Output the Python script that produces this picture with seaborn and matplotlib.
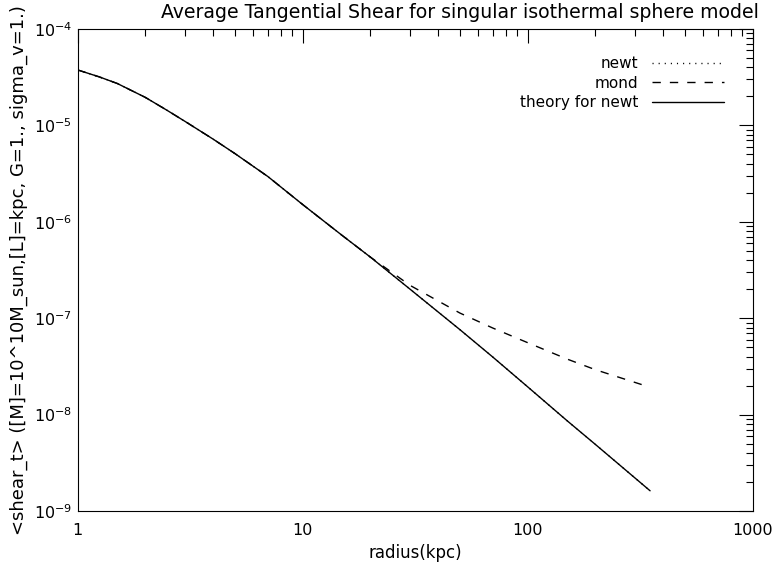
import numpy as np
import pandas as pd
import matplotlib
matplotlib.use("Agg")
import matplotlib.pyplot as plt
import seaborn as sns
from matplotlib.ticker import FixedLocator, LogLocator, NullFormatter, FixedFormatter

# radii (kpc) and averaged tangential shear values
radius = [1, 1.25, 1.5, 2, 2.5, 3, 4, 5, 7, 10, 15, 20, 30, 50, 70, 100, 150, 200, 350]
shear_theory = [3.76e-5, 3.18e-5, 2.72e-5, 1.95e-5, 1.43e-5, 1.10e-5, 7.2e-6, 5.1e-6, 2.95e-6,
                1.51e-6, 7.2e-7, 4.3e-7, 2.0e-7, 7.6e-8, 3.95e-8, 1.94e-8, 8.6e-9, 4.9e-9, 1.62e-9]
shear_newt = [3.76e-5, 3.18e-5, 2.72e-5, 1.95e-5, 1.43e-5, 1.10e-5, 7.2e-6, 5.1e-6, 2.95e-6,
              1.51e-6, 7.2e-7, 4.3e-7, 2.0e-7, 7.6e-8, 3.95e-8, 1.94e-8, 8.6e-9, 4.9e-9, 1.62e-9]
shear_mond = [3.76e-5, 3.18e-5, 2.72e-5, 1.95e-5, 1.43e-5, 1.10e-5, 7.2e-6, 5.1e-6, 2.95e-6,
              1.51e-6, 7.2e-7, 4.3e-7, 2.19e-7, 1.13e-7, 7.9e-8, 5.57e-8, 3.76e-8, 2.92e-8, 1.92e-8]

model_names = ["newt", "mond", "theory for newt"]
x_ticks = [1, 10, 100, 1000]
x_tick_labels = ["1", "10", "100", "1000"]
y_ticks = [1e-9, 1e-8, 1e-7, 1e-6, 1e-5, 1e-4]
y_tick_labels = [r"$10^{-9}$", r"$10^{-8}$", r"$10^{-7}$", r"$10^{-6}$", r"$10^{-5}$", r"$10^{-4}$"]

df = pd.concat([
    pd.DataFrame({"radius": radius, "shear": shear_newt, "model": "newt"}),
    pd.DataFrame({"radius": radius, "shear": shear_mond, "model": "mond"}),
    pd.DataFrame({"radius": radius, "shear": shear_theory, "model": "theory for newt"}),
], ignore_index=True)

sns.set_theme(style="white")
plt.rcParams["font.family"] = ["DejaVu Sans"]
plt.rcParams["mathtext.fontset"] = "dejavusans"
plt.rcParams["axes.linewidth"] = 0.8

fig = plt.figure(figsize=(7.73, 5.63), dpi=100)
ax = fig.add_axes([0.1005, 0.0924, 0.8732, 0.8561])

sns.lineplot(data=df, x="radius", y="shear", style="model", style_order=model_names,
             dashes={"newt": (0.8, 3.6), "mond": (6, 6.5), "theory for newt": ""},
             color="black", linewidth=1.0, estimator=None, sort=False, ax=ax)

ax.set_xscale("log")
ax.set_yscale("log")
ax.set_xlim(1, 1000)
ax.set_ylim(1e-9, 1e-4)

ax.xaxis.set_major_locator(FixedLocator(x_ticks))
ax.xaxis.set_major_formatter(FixedFormatter(x_tick_labels))
ax.xaxis.set_minor_locator(LogLocator(base=10, subs=np.arange(2, 10), numticks=20))
ax.xaxis.set_minor_formatter(NullFormatter())
ax.yaxis.set_major_locator(FixedLocator(y_ticks))
ax.yaxis.set_major_formatter(FixedFormatter(y_tick_labels))
ax.yaxis.set_minor_locator(LogLocator(base=10, subs=np.arange(2, 10), numticks=20))
ax.yaxis.set_minor_formatter(NullFormatter())

ax.tick_params(which="both", direction="in", top=True, right=True, color="black", width=0.8)
ax.tick_params(which="major", length=10, labelsize=11.5, colors="black")
ax.tick_params(which="minor", length=5)
ax.tick_params(axis="x", which="major", pad=9)
ax.tick_params(axis="y", which="major", pad=4)

for s in ax.spines.values():
    s.set_color("black")
    s.set_linewidth(0.8)

ax.set_xlabel("radius(kpc)", fontsize=12, color="black", labelpad=4)
ax.set_ylabel("<shear_t> ([M]=10^10M_sun,[L]=kpc, G=1., sigma_v=1.)",
              fontsize=13, color="black", labelpad=4)
fig.text(0.595, 0.977, "Average Tangential Shear for singular isothermal sphere model",
         ha="center", va="center", fontsize=13.6, color="black")

handles, labels = ax.get_legend_handles_labels()
leg = ax.legend(handles, labels, loc="upper right", bbox_to_anchor=(0.978, 0.972),
                frameon=False, markerfirst=False, fontsize=11, handlelength=4.7,
                labelspacing=0.3, handletextpad=0.9)
for t in leg.get_texts():
    t.set_color("black")

fig.savefig("out.png", dpi=100, facecolor="white")
